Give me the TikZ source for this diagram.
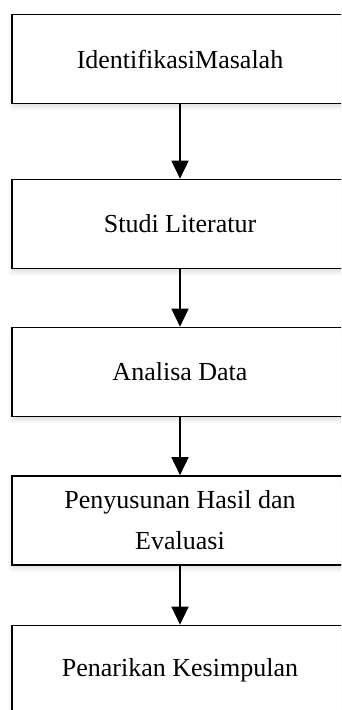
\documentclass[tikz,border=0pt]{standalone}
\usepackage{fontspec}
\setmainfont{Liberation Serif}
\usepackage{tikz}
\usetikzlibrary{arrows.meta,shadows.blur}

\begin{document}
\begin{tikzpicture}[x=1pt, y=1pt,
    stepbox/.style={draw, line width=1.6pt, fill=white, minimum width=336pt,
      minimum height=89pt, inner sep=0pt, align=center,
      font=\fontsize{26}{41}\selectfont,
      blur shadow={shadow xshift=0pt, shadow yshift=-4pt, shadow opacity=12,
        shadow blur radius=4pt, shadow blur extra rounding=0pt}},
    flow/.style={-{Triangle[length=18pt, width=17pt]}, line width=1.6pt}]
  \useasboundingbox (0,0) rectangle (341,710);
  \clip (0,0) rectangle (341,710);
  % research steps, top to bottom
  \node[stepbox] (masalah)    at (180,651)   {IdentifikasiMasalah};
  \node[stepbox] (literatur)  at (180,486)   {Studi Literatur};
  \node[stepbox] (analisa)    at (180,338)   {Analisa Data};
  \node[stepbox] (evaluasi)   at (180,189.5) {Penyusunan Hasil dan\\Evaluasi};
  \node[stepbox] (kesimpulan) at (180,40)    {Penarikan Kesimpulan};
  % flow
  \foreach \a/\b in {masalah/literatur, literatur/analisa, analisa/evaluasi, evaluasi/kesimpulan}
    \draw[flow] (\a.south) -- (\b.north);
\end{tikzpicture}
\end{document}
